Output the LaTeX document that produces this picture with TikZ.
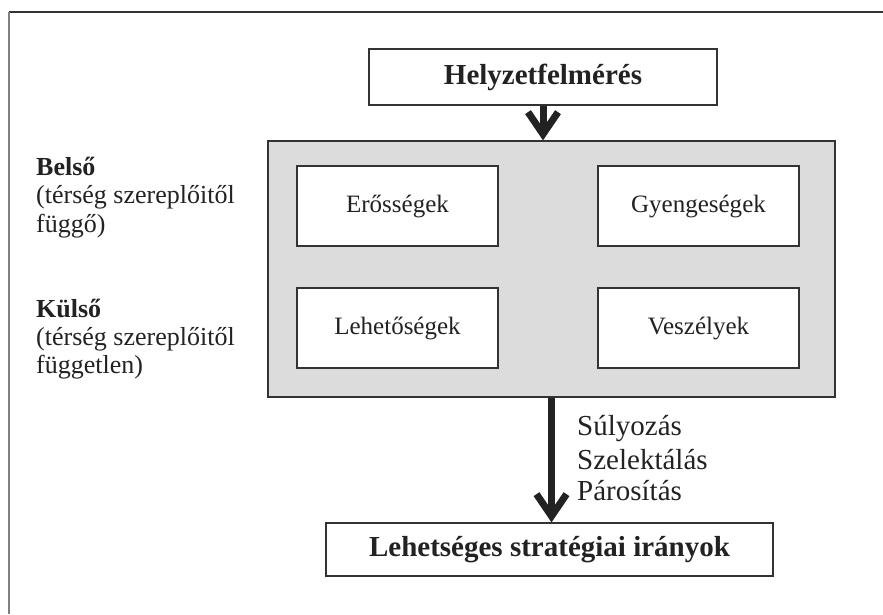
\documentclass[tikz,border=0pt]{standalone}
\usepackage{fontspec}
\setmainfont{Liberation Serif}
\usetikzlibrary{arrows.meta}
\definecolor{ink}{HTML}{222222}
\definecolor{frameline}{HTML}{333333}
\definecolor{panel}{HTML}{DCDCDC}
\begin{document}
\begin{tikzpicture}[x=1pt,y=-1pt,
  box/.style={draw=frameline,line width=1.3pt,fill=white,inner sep=0pt,
              text=ink,anchor=center},
  headbox/.style={box,font=\fontsize{29}{34}\selectfont\bfseries},
  cellbox/.style={box,minimum width=201pt,minimum height=80pt,
              font=\fontsize{25}{30}\selectfont},
  sidetext/.style={anchor=base west,inner sep=0pt,text=ink,
              font=\fontsize{26}{29}\selectfont},
  steptext/.style={anchor=base west,inner sep=0pt,text=ink,
              font=\fontsize{29}{33}\selectfont},
  bigarrow/.style={draw=ink,line width=7pt,
              -{Straight Barb[length=22pt,width=30pt,line width=7pt]}}]
\useasboundingbox (0,0) rectangle (883,614);
% outer frame (top and left edges)
\draw[frameline,line width=1.5pt] (9,12) -- (883,12);
\draw[gray,line width=2pt] (9,12) -- (9,614);

% top box
\node[headbox,minimum width=348pt,minimum height=56pt] (hz) at (543,77) {Helyzetfelmérés};

% grey panel with the four cells
\node[box,fill=panel,minimum width=567pt,minimum height=256pt] (panel) at (551.5,269) {};
\node[cellbox] (ero) at (397.5,206) {Erősségek};
\node[cellbox] (gyen) at (698.5,206) {Gyengeségek};
\node[cellbox] (leh) at (397.5,328) {Lehetőségek};
\node[cellbox] (vesz) at (698.5,328) {Veszélyek};

% side labels
\node[sidetext] (belso) at (36,175) {\bfseries Belső};
\node[sidetext] (belso2) at (36,203) {(térség szereplőitől};
\node[sidetext] (belso3) at (36,232) {függő)};
\node[sidetext] (kulso) at (36,317) {\bfseries Külső};
\node[sidetext] (kulso2) at (36,345) {(térség szereplőitől};
\node[sidetext] (kulso3) at (36,373) {független)};

% bottom box
\node[headbox,minimum width=447pt,minimum height=53pt] (irany) at (549.5,549.5) {Lehetséges stratégiai irányok};

% arrows
\draw[bigarrow] (hz.south) -- (panel.north -| hz.south);
\draw[bigarrow] (panel.south) -- (irany.north -| panel.south);

% steps beside the lower arrow
\node[steptext] (s1) at (577,435) {Súlyozás};
\node[steptext] (s2) at (577,469) {Szelektálás};
\node[steptext] (s3) at (577,500) {Párosítás};
\end{tikzpicture}
\end{document}
